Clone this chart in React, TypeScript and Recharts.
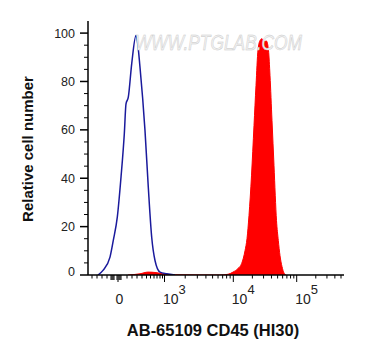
import React from 'react';
import { ComposedChart, Line, Area, XAxis, YAxis } from 'recharts';

// x is in display channels (0..256) of a logicle-scaled axis
const blueChannel = [10, 15, 22, 25.3, 29.3, 33, 36.3, 38, 40.3, 43.7, 48, 49.3, 52, 57, 60.3, 63.7, 67, 72, 78.7, 87];
const blueCount = [0, 1.9, 7.4, 14.3, 23.9, 40.4, 58.3, 70.7, 73.5, 87.3, 99, 96.9, 85.9, 59.7, 36.3, 15.6, 6, 1.2, 0.5, 0];

const redChannel = [40, 52, 60, 68, 76, 85, 132, 140, 145, 150, 153.7, 157, 159, 161, 163.5, 166, 168, 170, 172, 174, 176, 178.5, 180.5, 182, 184, 186, 188.5, 190.3, 192, 194, 196, 198];
const redCount = [0, 0.5, 1.2, 1, 0.4, 0.1, 0, 0.3, 1.2, 2.7, 4.8, 10, 15, 24.6, 41, 61.8, 78.3, 93, 96.9, 97.7, 96.5, 96.7, 92.8, 82.4, 63.8, 45.2, 22.5, 14.3, 8, 3.5, 0.8, 0];

const yTicks = [0, 5, 10, 15, 20, 25, 30, 35, 40, 45, 50, 55, 60, 65, 70, 75, 80, 85, 90, 95, 100];
const yMajor = [0, 20, 40, 60, 80, 100];

const xMajorChannel = [30, 76.5, 145.3, 208.7];
const xMajorExp = ['', '3', '4', '5'];
const xLinearMinor = [4, 9, 14, 19, 39, 44, 49, 54, 58.5, 62.5, 66, 69, 72, 74.5];
const xZeroCluster = [23, 24, 25, 26, 29, 31, 32, 33];
const logMinorK = [2, 3, 4, 5, 6, 7, 8, 9];

const xTitle = 'AB-65109 CD45 (HI30)';
const yTitle = 'Relative cell number';
const watermark = 'WWW.PTGLAB.COM';

const blueData = blueChannel.map((c, i) => ({ ch: c, count: blueCount[i] }));
const redData = redChannel.map((c, i) => ({ ch: c, count: redCount[i] }));

const logMinor: number[] = [];
for (let d = 1; d < xMajorChannel.length; d++) {
  const a = xMajorChannel[d];
  const w = d < xMajorChannel.length - 1 ? xMajorChannel[d + 1] - a : xMajorChannel[d] - xMajorChannel[d - 1];
  logMinorK.forEach((k) => {
    const p = a + Math.log10(k) * w;
    if (p < 256) logMinor.push(p);
  });
}
const xTicks = [...xLinearMinor, ...xZeroCluster, ...xMajorChannel, ...logMinor].sort((a, b) => a - b);

const FONT = '"Liberation Sans", Arial, sans-serif';

const XTick = (props: any) => {
  const { x, y, payload } = props;
  const v = payload.value;
  const mi = xMajorChannel.indexOf(v);
  const isCluster = xZeroCluster.indexOf(v) >= 0;
  const len = mi >= 0 ? 7 : isCluster ? 5 : 3.5;
  return (
    <g>
      <line x1={x} y1={y} x2={x} y2={y + len} stroke="#000" strokeWidth={1} />
      {mi === 0 && (
        <text x={x + 1.5} y={y + 29} textAnchor="middle" fontSize={14} fill="#222" fontFamily={FONT}>0</text>
      )}
      {mi > 0 && (
        <text x={x - 1.5} y={y + 29} textAnchor="start" fontSize={14} fill="#222" fontFamily={FONT}>
          10<tspan dy={-10} fontSize={13}>{xMajorExp[mi]}</tspan>
        </text>
      )}
    </g>
  );
};

const YTick = (props: any) => {
  const { x, y, payload } = props;
  const v = payload.value;
  const major = yMajor.indexOf(v) >= 0;
  return (
    <g>
      <line x1={x - (major ? 8 : 4)} y1={y} x2={x} y2={y} stroke="#000" strokeWidth={major ? 1.5 : 1} />
      {major && (
        <text x={x - 13} y={y + (v === 0 ? -4 : 0)} dy="0.36em" textAnchor="end" fontSize={12.5} fill="#222" fontFamily={FONT}>
          {v}
        </text>
      )}
    </g>
  );
};

export default function App() {
  return (
    <div style={{ position: 'absolute', left: 0, top: 0, width: 365, height: 360, background: '#fff' }}>
      <ComposedChart width={365} height={360} margin={{ top: 21, right: 21, bottom: 25, left: 0 }}>
        <XAxis
          dataKey="ch"
          type="number"
          domain={[0, 256]}
          ticks={xTicks}
          interval={0}
          allowDataOverflow
          height={60}
          tickSize={0}
          tickMargin={0}
          tickLine={false}
          tick={<XTick />}
          axisLine={{ stroke: '#000', strokeWidth: 1.5 }}
        />
        <XAxis xAxisId="top" orientation="top" type="number" domain={[0, 256]} height={0} tick={false} tickLine={false} axisLine={{ stroke: '#000', strokeWidth: 1.2 }} />
        <YAxis
          type="number"
          domain={[0, 105]}
          ticks={yTicks}
          interval={0}
          allowDataOverflow
          width={88}
          tickSize={0}
          tickMargin={0}
          tickLine={false}
          tick={<YTick />}
          axisLine={{ stroke: '#000', strokeWidth: 1.5 }}
        />
        <YAxis yAxisId="right" orientation="right" type="number" domain={[0, 105]} width={0} tick={false} tickLine={false} axisLine={{ stroke: '#000', strokeWidth: 1.2 }} />
        <Area data={redData} dataKey="count" type="monotone" stroke="#ff0000" strokeWidth={1} fill="#ff0000" fillOpacity={1} isAnimationActive={false} dot={false} activeDot={false} />
        <Line data={blueData} dataKey="count" type="monotone" stroke="#1a1a9c" strokeWidth={1.5} dot={false} activeDot={false} isAnimationActive={false} />
      </ComposedChart>
      <svg width={365} height={360} style={{ position: 'absolute', left: 0, top: 0, pointerEvents: 'none' }}>
        <text x={135} y={50} fontSize={22} fontStyle="italic" fontFamily={FONT} textLength={167} lengthAdjust="spacingAndGlyphs" fill="#f3f3f3" stroke="#c8c8c8" strokeWidth={0.5}>
          {watermark}
        </text>
        <text x={213} y={330} dy="0.36em" textAnchor="middle" fontSize={16.5} fontWeight="bold" fill="#111" fontFamily={FONT}>
          {xTitle}
        </text>
        <text x={0} y={0} transform="translate(28,149) rotate(-90)" dy="0.36em" textAnchor="middle" fontSize={15} fontWeight="bold" fill="#111" fontFamily={FONT}>
          {yTitle}
        </text>
      </svg>
    </div>
  );
}
